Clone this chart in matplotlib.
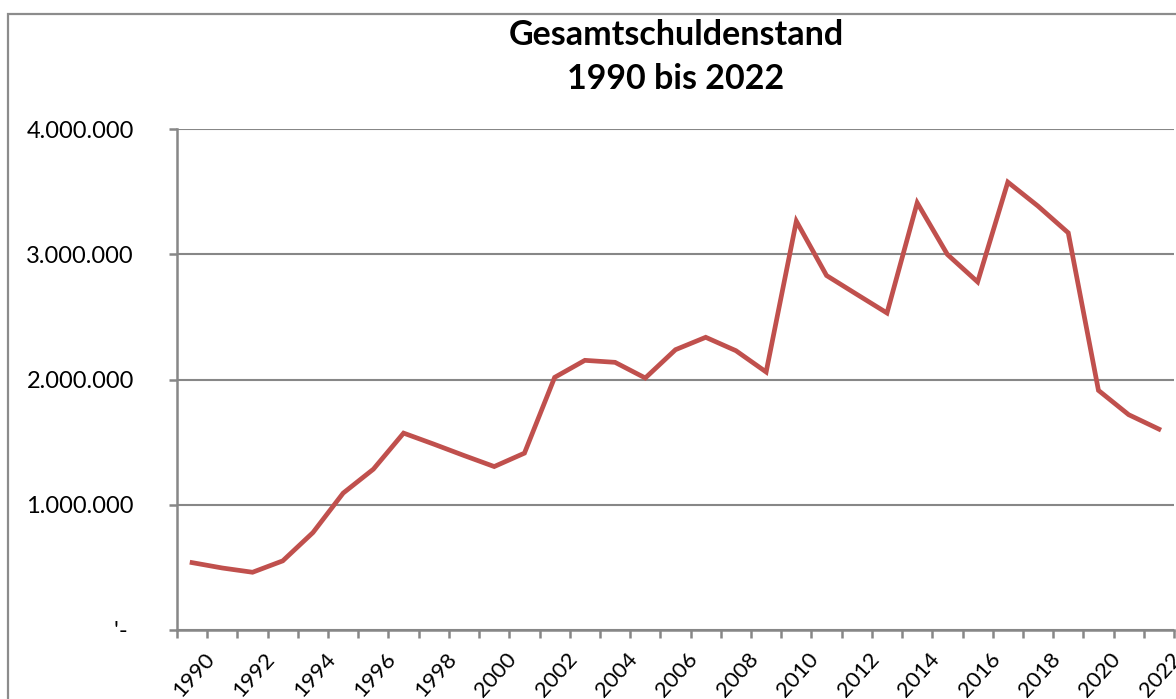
import matplotlib
matplotlib.use("Agg")
import matplotlib.pyplot as plt
import matplotlib.transforms as mtrans
from matplotlib.patches import Rectangle

# Werte
jahre = list(range(1990, 2023))
schulden = [538000, 495000, 461000, 552000, 778000, 1093000, 1284000, 1572000,
            1484000, 1393000, 1305000, 1412000, 2017000, 2153000, 2137000, 2012000,
            2238000, 2337000, 2230000, 2060000, 3264000, 2830000, 2680000, 2531000,
            3411000, 2998000, 2779000, 3576000, 3384000, 3171000, 1913000, 1719000,
            1604000]
y_ticks = [0, 1000000, 2000000, 3000000, 4000000]
y_labels = ["'- ", "1.000.000", "2.000.000", "3.000.000", "4.000.000"]

GRAU = "#878787"
ROT = "#C0504D"
plt.rcParams['font.family'] = ['Lato', 'DejaVu Sans']

fig = plt.figure(figsize=(11.76, 6.99), dpi=100)
W, H = 1176, 699
ax = fig.add_axes([177 / W, 1 - 630 / H, 997 / W, 501 / H])

# Rahmen des Diagrammbereichs
fig.patches.append(Rectangle((8 / W, -0.1), 1.2, 0.1 + (1 - 14 / H), transform=fig.transFigure,
                             fill=False, edgecolor="#8c8c8c", linewidth=1.6))

x = list(range(len(jahre)))
ax.plot(x, schulden, color=ROT, linewidth=3.4, solid_joinstyle='miter', zorder=3)

ax.set_xlim(-0.5, len(jahre) - 0.5)
ax.set_ylim(0, 4000000)
ax.set_yticks(y_ticks)
ax.set_yticklabels(y_labels, fontsize=17)
ax.yaxis.grid(True, color=GRAU, linewidth=1.5)
ax.set_axisbelow(True)

# Teilstriche zwischen den Kategorien, Beschriftung jedes zweite Jahr
ax.set_xticks([i - 0.5 for i in range(len(jahre) + 1)])
ax.set_xticklabels([])
ax.set_xticks(x[::2], [str(j) for j in jahre[::2]], minor=True)
ax.tick_params(axis='x', which='minor', length=0)
ax.tick_params(axis='x', which='major', length=6, width=1.8, color=GRAU, direction='out')
ax.tick_params(axis='y', length=6, width=1.8, color=GRAU, direction='out', pad=25)
off = mtrans.ScaledTranslation(19 / 100, -21 / 100, fig.dpi_scale_trans)
for lab in ax.get_xticklabels(minor=True):
    lab.set_rotation(48)
    lab.set_ha('right')
    lab.set_va('center')
    lab.set_rotation_mode('anchor')
    lab.set_fontsize(16)
    lab.set_transform(lab.get_transform() + off)

for s in ['top', 'right']:
    ax.spines[s].set_visible(False)
for s in ['left', 'bottom']:
    ax.spines[s].set_color(GRAU)
    ax.spines[s].set_linewidth(1.8)

fig.text(676 / W, 1 - 57 / H, "Gesamtschuldenstand\n1990 bis 2022", ha='center', va='center',
         fontsize=24.5, fontweight='bold', linespacing=1.45)

fig.savefig("out.png", dpi=100)
